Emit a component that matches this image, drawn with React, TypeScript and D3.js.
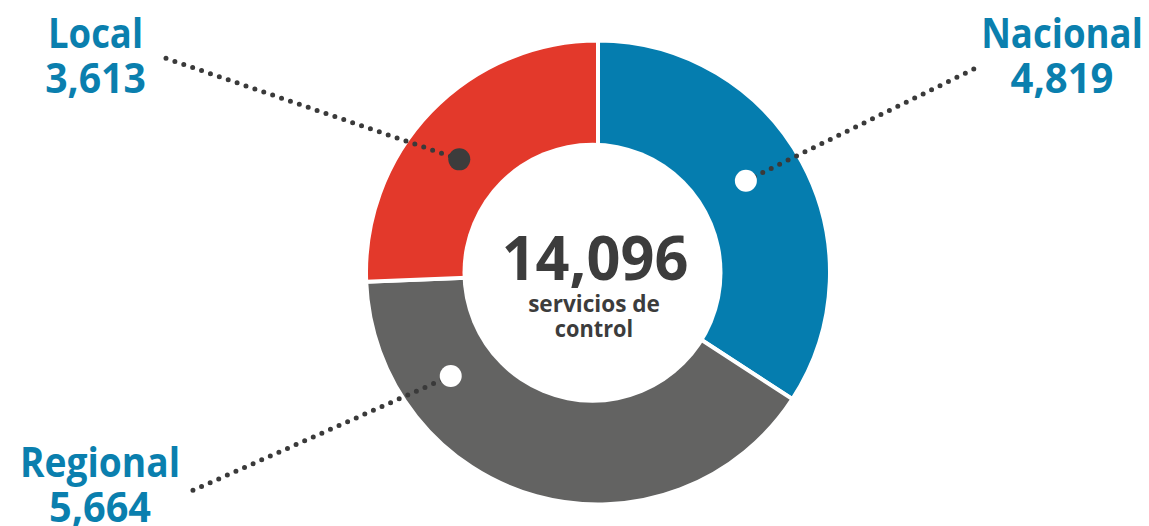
import React, { useEffect, useRef } from "react";
import * as d3 from "d3";

const categories = ["Nacional", "Regional", "Local"];
const values = [4819, 5664, 3613];
const totalLabel = "14,096";
const centerLines = ["servicios de", "control"];

const sliceColors = ["#057daf", "#636362", "#e3392b"];
const dotFills = ["#ffffff", "#ffffff", "#3c3c3c"];
// label layout: anchor angle (deg, clockwise from top), anchor radius, line end, label center/baselines, text widths
const layout = [
  { angle: 58.2, r: 174, end: [976, 68], lx: 1062, y1: 48.3, y2: 93.3, w1: 161.7, w2: 103 },
  { angle: 234.9, r: 180, end: [187, 493], lx: 100, y1: 476.7, y2: 521.7, w1: 160, w2: 102 },
  { angle: 309.2, r: 179, end: [165, 58], lx: 95.5, y1: 48.3, y2: 93.3, w1: 95, w2: 100.7 },
];

const W = 1149;
const H = 526;
const cx = 598;
const cy = 272.5;
const R = 232;
const innerC = { x: 592.5, y: 272.7, r: 130 };
const FONT = "'Open Sans', 'Noto Sans', sans-serif";

export default function App() {
  const ref = useRef<SVGSVGElement | null>(null);

  useEffect(() => {
    document.body.style.margin = "0";
    const svg = d3.select(ref.current);
    svg.selectAll("*").remove();

    const pie = d3
      .pie<number>()
      .sort(null)
      .value((d) => d)(values);
    const arc = d3.arc<d3.PieArcDatum<number>>().innerRadius(0).outerRadius(R);

    const g = svg.append("g").attr("transform", `translate(${cx},${cy})`);
    g.selectAll("path")
      .data(pie)
      .join("path")
      .attr("d", arc as any)
      .attr("fill", (_, i) => sliceColors[i])
      .attr("stroke", "#fff")
      .attr("stroke-width", 4)
      .attr("stroke-linejoin", "miter");

    svg
      .append("circle")
      .attr("cx", innerC.x)
      .attr("cy", innerC.y)
      .attr("r", innerC.r)
      .attr("fill", "#fff");

    const fmt = d3.format(",");
    // leader lines
    layout.forEach((l, i) => {
      const a = (l.angle * Math.PI) / 180;
      const ax = cx + l.r * Math.sin(a);
      const ay = cy - l.r * Math.cos(a);
      svg
        .append("line")
        .attr("x1", ax)
        .attr("y1", ay)
        .attr("x2", l.end[0])
        .attr("y2", l.end[1])
        .attr("stroke", "#3a3a3a")
        .attr("stroke-width", 5)
        .attr("stroke-linecap", "round")
        .attr("stroke-dasharray", "0 9.4");
      svg
        .append("circle")
        .attr("cx", ax)
        .attr("cy", ay)
        .attr("r", 11)
        .attr("fill", dotFills[i]);

      svg
        .append("text")
        .attr("x", l.lx)
        .attr("y", l.y1)
        .attr("text-anchor", "middle")
        .attr("font-family", FONT)
        .attr("font-weight", 700)
        .attr("font-size", 42)
        .attr("fill", "#0a7fae")
        .attr("textLength", l.w1)
        .attr("lengthAdjust", "spacingAndGlyphs")
        .text(categories[i]);
      svg
        .append("text")
        .attr("x", l.lx)
        .attr("y", l.y2)
        .attr("text-anchor", "middle")
        .attr("font-family", FONT)
        .attr("font-weight", 700)
        .attr("font-size", 42)
        .attr("fill", "#0a7fae")
        .attr("textLength", l.w2)
        .attr("lengthAdjust", "spacingAndGlyphs")
        .text(fmt(values[i]));
    });

    // center text
    svg
      .append("text")
      .attr("x", 595)
      .attr("y", 280)
      .attr("text-anchor", "middle")
      .attr("font-family", FONT)
      .attr("font-weight", 700)
      .attr("font-size", 61)
      .attr("fill", "#3c3c3c")
      .attr("textLength", 186.7)
      .attr("lengthAdjust", "spacingAndGlyphs")
      .text(totalLabel);
    const smallW = [131.7, 78.3];
    const smallY = [311.7, 336.7];
    centerLines.forEach((t, i) => {
      svg
        .append("text")
        .attr("x", 594)
        .attr("y", smallY[i])
        .attr("text-anchor", "middle")
        .attr("font-family", FONT)
        .attr("font-weight", 700)
        .attr("font-size", 23)
        .attr("fill", "#3c3c3c")
        .attr("textLength", smallW[i])
        .attr("lengthAdjust", "spacingAndGlyphs")
        .text(t);
    });
  }, []);

  return (
    <svg
      ref={ref}
      width={W}
      height={H}
      viewBox={`0 0 ${W} ${H}`}
      style={{ display: "block", position: "absolute", left: 0, top: 0, background: "#fff" }}
    />
  );
}
